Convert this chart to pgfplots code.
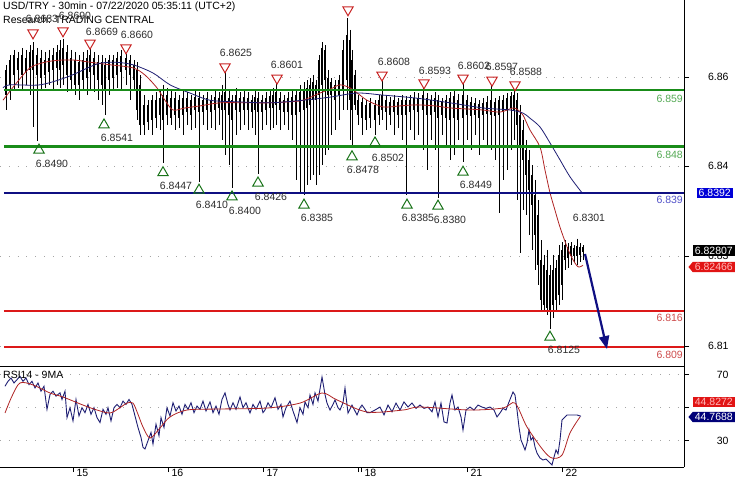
\documentclass[border=0pt]{standalone}
\usepackage{pgfplots}
\pgfplotsset{compat=1.18}
\usepackage{pgfplotstable}
\usepackage{fontspec}
\setmainfont{Liberation Sans}
\usetikzlibrary{arrows.meta,shapes.symbols}

\definecolor{lvgreen}{RGB}{25,140,25}
\definecolor{lvnavy}{RGB}{15,15,130}
\definecolor{lvred}{RGB}{220,25,25}
\definecolor{mared}{RGB}{175,35,35}
\definecolor{manavy}{RGB}{30,30,115}
\definecolor{txtgray}{RGB}{45,45,45}
\definecolor{gridgray}{RGB}{165,165,165}
\definecolor{trired}{RGB}{200,35,35}
\definecolor{trigreen}{RGB}{25,115,25}
\definecolor{boxblue}{RGB}{0,0,215}
\definecolor{boxred}{RGB}{225,20,20}
\definecolor{boxtxt}{RGB}{255,185,185}

% 30 min bars: x, high, low, body top, body bottom
\pgfplotstableread{
x h l bt bb
6 6.8639 6.8551 6.8629 6.8580
10 6.8658 6.8570 6.8648 6.8600
14 6.8668 6.8590 6.8658 6.8619
18 6.8664 6.8594 6.8652 6.8629
22 6.8672 6.8590 6.8658 6.8619
26 6.8668 6.8600 6.8652 6.8625
30 6.8677 6.8580 6.8664 6.8629
33 6.8683 6.8518 6.8668 6.8629
37 6.8672 6.8490 6.8658 6.8619
41 6.8668 6.8590 6.8652 6.8613
45 6.8664 6.8594 6.8648 6.8619
49 6.8668 6.8600 6.8652 6.8625
53 6.8672 6.8590 6.8658 6.8629
57 6.8677 6.8600 6.8664 6.8633
60 6.8687 6.8594 6.8668 6.8629
63 6.8690 6.8600 6.8672 6.8639
67 6.8677 6.8586 6.8664 6.8619
71 6.8668 6.8590 6.8652 6.8609
75 6.8664 6.8580 6.8648 6.8600
79 6.8658 6.8570 6.8644 6.8600
83 6.8664 6.8590 6.8648 6.8609
87 6.8668 6.8580 6.8652 6.8613
90 6.8669 6.8590 6.8658 6.8625
94 6.8664 6.8586 6.8652 6.8619
98 6.8658 6.8570 6.8644 6.8609
102 6.8658 6.8561 6.8644 6.8600
105 6.8652 6.8541 6.8639 6.8590
109 6.8658 6.8580 6.8648 6.8609
113 6.8658 6.8590 6.8648 6.8613
117 6.8664 6.8594 6.8652 6.8619
121 6.8668 6.8590 6.8656 6.8625
126 6.8660 6.8600 6.8652 6.8629
130 6.8658 6.8570 6.8648 6.8619
134 6.8648 6.8590 6.8639 6.8609
137 6.8644 6.8532 6.8629 6.8551
140 6.8619 6.8502 6.8600 6.8522
144 6.8580 6.8502 6.8561 6.8522
148 6.8570 6.8512 6.8561 6.8528
152 6.8580 6.8502 6.8570 6.8532
156 6.8586 6.8516 6.8570 6.8535
160 6.8590 6.8512 6.8574 6.8541
163 6.8600 6.8447 6.8580 6.8532
167 6.8594 6.8522 6.8580 6.8541
171 6.8590 6.8522 6.8574 6.8535
175 6.8586 6.8512 6.8574 6.8541
179 6.8580 6.8516 6.8570 6.8535
183 6.8590 6.8502 6.8574 6.8541
187 6.8586 6.8522 6.8574 6.8547
191 6.8580 6.8512 6.8570 6.8541
195 6.8590 6.8516 6.8576 6.8551
199 6.8586 6.8410 6.8574 6.8547
203 6.8580 6.8522 6.8570 6.8547
207 6.8586 6.8512 6.8574 6.8551
211 6.8580 6.8516 6.8570 6.8547
215 6.8590 6.8512 6.8576 6.8551
219 6.8586 6.8522 6.8574 6.8555
222 6.8600 6.8493 6.8580 6.8551
225 6.8625 6.8463 6.8586 6.8551
229 6.8590 6.8444 6.8574 6.8541
232 6.8580 6.8400 6.8570 6.8532
236 6.8594 6.8502 6.8580 6.8551
240 6.8586 6.8512 6.8574 6.8547
244 6.8590 6.8522 6.8576 6.8551
248 6.8586 6.8512 6.8574 6.8551
252 6.8580 6.8516 6.8570 6.8547
255 6.8590 6.8502 6.8576 6.8551
258 6.8586 6.8426 6.8574 6.8547
262 6.8580 6.8512 6.8570 6.8547
266 6.8586 6.8522 6.8574 6.8551
270 6.8590 6.8512 6.8578 6.8555
273 6.8594 6.8516 6.8580 6.8555
276 6.8601 6.8522 6.8586 6.8561
280 6.8586 6.8512 6.8574 6.8551
284 6.8580 6.8522 6.8570 6.8547
288 6.8586 6.8512 6.8574 6.8547
292 6.8590 6.8493 6.8576 6.8541
296 6.8590 6.8415 6.8580 6.8541
300 6.8600 6.8391 6.8586 6.8547
304 6.8605 6.8385 6.8590 6.8551
307 6.8609 6.8405 6.8594 6.8555
310 6.8613 6.8415 6.8600 6.8561
313 6.8619 6.8425 6.8605 6.8570
316 6.8609 6.8405 6.8600 6.8570
319 6.8658 6.8425 6.8648 6.8580
322 6.8683 6.8444 6.8672 6.8600
325 6.8677 6.8463 6.8668 6.8609
328 6.8629 6.8473 6.8613 6.8580
331 6.8613 6.8502 6.8605 6.8580
335 6.8609 6.8512 6.8600 6.8570
339 6.8619 6.8532 6.8609 6.8580
343 6.8687 6.8551 6.8668 6.8590
347 6.8730 6.8551 6.8697 6.8609
350 6.8707 6.8493 6.8687 6.8570
352 6.8668 6.8478 6.8648 6.8551
355 6.8629 6.8551 6.8619 6.8561
358 6.8580 6.8522 6.8570 6.8541
362 6.8574 6.8502 6.8567 6.8535
366 6.8570 6.8512 6.8561 6.8532
370 6.8574 6.8516 6.8565 6.8535
375 6.8570 6.8502 6.8561 6.8532
379 6.8580 6.8522 6.8570 6.8541
382 6.8608 6.8532 6.8580 6.8551
386 6.8580 6.8512 6.8570 6.8547
390 6.8576 6.8522 6.8567 6.8541
394 6.8580 6.8502 6.8570 6.8547
398 6.8574 6.8516 6.8567 6.8541
402 6.8580 6.8493 6.8570 6.8541
406 6.8578 6.8385 6.8570 6.8541
410 6.8580 6.8512 6.8570 6.8547
414 6.8586 6.8493 6.8574 6.8551
418 6.8584 6.8502 6.8574 6.8547
423 6.8593 6.8473 6.8580 6.8551
427 6.8584 6.8434 6.8574 6.8541
431 6.8580 6.8493 6.8570 6.8541
435 6.8586 6.8473 6.8574 6.8547
438 6.8580 6.8380 6.8570 6.8535
442 6.8574 6.8502 6.8567 6.8541
446 6.8580 6.8483 6.8570 6.8535
450 6.8586 6.8454 6.8574 6.8532
454 6.8590 6.8463 6.8578 6.8535
458 6.8582 6.8493 6.8570 6.8532
463 6.8602 6.8449 6.8580 6.8535
467 6.8580 6.8493 6.8570 6.8541
471 6.8576 6.8473 6.8567 6.8539
475 6.8574 6.8502 6.8565 6.8541
479 6.8570 6.8463 6.8563 6.8535
483 6.8574 6.8493 6.8565 6.8541
487 6.8578 6.8483 6.8567 6.8543
491 6.8597 6.8473 6.8570 6.8541
495 6.8574 6.8454 6.8567 6.8539
499 6.8578 6.8351 6.8570 6.8541
503 6.8580 6.8415 6.8570 6.8547
507 6.8584 6.8434 6.8574 6.8551
511 6.8586 6.8473 6.8578 6.8555
514 6.8588 6.8493 6.8580 6.8551
517 6.8584 6.8376 6.8570 6.8522
520 6.8561 6.8273 6.8541 6.8483
523 6.8532 6.8356 6.8512 6.8454
526 6.8493 6.8347 6.8473 6.8425
529 6.8473 6.8308 6.8454 6.8395
532 6.8444 6.8279 6.8425 6.8366
535 6.8415 6.8240 6.8386 6.8308
538 6.8376 6.8211 6.8347 6.8249
541 6.8298 6.8162 6.8259 6.8181
544 6.8269 6.8158 6.8249 6.8172
547 6.8279 6.8152 6.8240 6.8166
550 6.8249 6.8125 6.8230 6.8162
553 6.8269 6.8146 6.8240 6.8172
556 6.8259 6.8158 6.8244 6.8181
559 6.8288 6.8172 6.8269 6.8191
562 6.8294 6.8181 6.8279 6.8211
565 6.8298 6.8240 6.8288 6.8259
568 6.8292 6.8244 6.8285 6.8263
571 6.8294 6.8249 6.8286 6.8267
574 6.8288 6.8255 6.8283 6.8267
577 6.8301 6.8249 6.8286 6.8267
580 6.8292 6.8255 6.8285 6.8269
583 6.8288 6.8259 6.8285 6.8275
}\bars

\pgfplotstableread{
x p
3 6.8570
15 6.8600
30 6.8633
45 6.8644
60 6.8648
75 6.8648
90 6.8644
110 6.8639
133 6.8633
145 6.8619
157 6.8594
165 6.8570
173 6.8551
185 6.8555
200 6.8559
220 6.8565
250 6.8565
270 6.8565
290 6.8567
303 6.8570
320 6.8584
333 6.8594
340 6.8600
350 6.8594
360 6.8580
367 6.8570
383 6.8557
400 6.8559
417 6.8561
435 6.8559
450 6.8555
467 6.8553
483 6.8551
500 6.8547
513 6.8555
518 6.8551
523 6.8541
530 6.8512
540 6.8479
545 6.8434
550 6.8390
555 6.8356
560 6.8323
567 6.8285
572 6.8263
578 6.8246
583 6.8249
}\mafast

\pgfplotstableread{
x p
3 6.8594
10 6.8600
40 6.8600
67 6.8615
90 6.8635
100 6.8642
115 6.8644
133 6.8639
153 6.8623
170 6.8600
190 6.8584
210 6.8570
237 6.8567
270 6.8565
303 6.8570
330 6.8576
357 6.8584
383 6.8580
417 6.8574
450 6.8565
483 6.8555
510 6.8551
523 6.8545
530 6.8535
540 6.8518
550 6.8487
560 6.8454
570 6.8421
582 6.8390
}\maslow

\pgfplotstableread{
x p
33 6.8701
63 6.8705
90 6.8681
126 6.8672
225 6.8635
277 6.8613
348 6.8746
382 6.8619
424 6.8604
463 6.8613
492 6.8609
515 6.8600
}\hightri

\pgfplotstableread{
x p
39 6.8473
104 6.8522
163 6.8429
199 6.8395
232 6.8382
258 6.8409
304 6.8366
352 6.8460
375 6.8487
407 6.8366
438 6.8364
463 6.8430
550 6.8109
}\lowtri

\pgfplotstableread{
x r
5 63
8 66
11 68
14 65
17 67
20 69
23 66
26 68
29 64
32 66
35 62
38 65
41 60
44 63
47 49
50 58
53 60
56 57
60 59
62 55
65 60
67 44
70 50
73 42
76 55
79 45
82 50
85 47
88 52
91 46
94 50
97 44
100 41
103 49
106 46
108 50
111 42
114 50
117 52
120 50
123 54
126 52
129 55
132 52
135 45
138 38
141 32
143 26
145 25
148 30
151 35
153 28
156 40
159 33
161 44
164 38
167 50
170 45
173 53
176 48
179 51
182 46
185 52
188 49
191 53
194 47
197 51
200 49
203 54
206 48
210 53.5
213 47
216 51
219 46
222 55
225 59
228 52
230 48.6
233 53
236 49
240 56.5
243 50
246 53
250 46.8
253 52
256 49
260 54
263 47
265 48.6
268 53
271 50
275 56
278 49
281 52
283 44.4
286 50
290 54
293 48
297 41
300 50
303 46
305 53.5
308 50
310 57.7
313 52
315 59
318 54
322 68.6
325 58
327 52.8
330 48.6
333 52
335 54.7
338 50
340 48.6
343 53
345 62
348 46.8
352 51.6
355 48
357 45.6
360 50
362 51.6
365 49
367 47
370 47
375 48.6
380 50.4
384 45.6
388 51.6
392 47.5
396 52.8
400 48.6
404 53.5
408 50.4
412 52.8
416 49.6
420 51.6
424 49.6
428 50.4
432 47.5
435 53.5
438 44.4
441 52.8
444 41.4
447 40.7
450 52.8
452 57.7
455 48.6
458 50.4
461 44.4
463 36.5
466 48.6
470 50.4
474 48.6
478 51.6
482 50.4
486 49.6
490 50.4
494 48.6
497 44.4
500 46.8
503 49.6
506 48.6
509 53.5
511 56.5
513 59.5
515 57.7
517 48.6
519 38.3
521 30.4
523 27.5
525 24.4
527 28.6
529 36.5
531 30.4
533 32.2
535 26.2
537 22.5
540 19.5
543 18.3
546 18.9
549 17.1
552 15.3
554 20.1
556 24.4
558 22
560 30.4
562 42.6
564 43.8
567 45.6
572 45.6
577 45.6
581 44.8
}\rsi

\pgfplotstableread{
x r
5 46.8
12 57
20 65
33 63.8
50 58.9
63 56.5
83 51.6
97 48.6
110 46.8
120 50
127 52.8
133 52.8
138 46
143 38.3
150 31.6
160 37.7
170 44.4
187 48.6
217 49.2
267 49.8
300 52.8
322 58.9
337 54.7
367 47.4
403 48.6
420 50.4
470 48.6
503 49.8
515 52.8
527 38.3
543 24.4
552 19.5
562 21.3
570 34.7
580 44.4
}\rsima

\begin{document}
\begin{tikzpicture}[font=\fontsize{10.5}{12}\selectfont]
\begin{axis}[
  at={(0pt,0pt)}, anchor=north west,
  scale only axis, width=684pt, height=366pt,
  xmin=0, xmax=684, ymin=6.80530, ymax=6.87650,
  axis x line*=bottom, axis y line*=right,
  axis line style={black, line width=0.8pt},
  xtick=\empty,
  ytick={6.8615,6.8442,6.8267,6.8092},
  yticklabels={6.86,6.84,6.83,6.81},
  tick align=outside, major tick length=5pt,
  tick style={black, line width=0.8pt},
  yticklabel style={anchor=east, xshift=43pt},
  ymajorgrids, grid style={gridgray, line width=0.8pt, dash pattern=on 0.8pt off 8pt},
]
% wicks and bodies
\addplot[draw=none, mark=none, forget plot,
  error bars/.cd, y dir=minus, y explicit, error mark=none,
  error bar style={black, line width=0.8pt}]
  table[x=x, y=h, y error minus expr=\thisrow{h}-\thisrow{l}] {\bars};
\addplot[draw=none, mark=none, forget plot,
  error bars/.cd, y dir=minus, y explicit, error mark=none,
  error bar style={black, line width=2.1pt}]
  table[x=x, y=bt, y error minus expr=\thisrow{bt}-\thisrow{bb}] {\bars};
% moving averages
\addplot[mared, line width=0.8pt, smooth, mark=none] table[x=x, y=p] {\mafast};
\addplot[manavy, line width=0.8pt, smooth, mark=none] table[x=x, y=p] {\maslow};
% swing markers
\addplot[only marks, mark=triangle, mark size=6pt, mark options={trired, line width=1pt, rotate=180, fill=white, fill opacity=0}] table[x=x, y=p] {\hightri};
\addplot[only marks, mark=triangle, mark size=6pt, mark options={trigreen, line width=1pt, fill=white, fill opacity=0}] table[x=x, y=p] {\lowtri};
% support / resistance levels
\addplot[lvgreen, line width=2.2pt] coordinates {(4,6.859) (684,6.859)};
\addplot[lvgreen, line width=2.2pt] coordinates {(4,6.848) (684,6.848)};
\addplot[lvnavy, line width=2.2pt] coordinates {(4,6.839) (684,6.839)};
\addplot[lvred, line width=2.2pt] coordinates {(4,6.816) (684,6.816)};
\addplot[lvred, line width=2.2pt] coordinates {(4,6.809) (684,6.809)};
% target arrow
\addplot[lvnavy, line width=2.2pt, -{Triangle[width=10pt,length=13pt]}] coordinates {(585,6.8271) (607,6.8086)};
\end{axis}

\begin{axis}[
  at={(0pt,-366pt)}, anchor=north west,
  scale only axis, width=684pt, height=101pt,
  xmin=0, xmax=684, ymin=14.06, ymax=75.27,
  axis x line*=box, axis y line*=right,
  axis line style={black, line width=0.8pt},
  xtick pos=left,
  xtick={73,168,263,358,361,467,562},
  xticklabels={15,16,17,,18,21,22},
  ytick={30,50,70}, yticklabels={30,,70},
  tick align=outside, major tick length=5pt,
  tick style={black, line width=0.8pt},
  xticklabel style={anchor=north west, xshift=0pt, yshift=6.5pt},
  yticklabel style={anchor=east, xshift=43pt},
  ymajorgrids, grid style={gridgray, line width=0.8pt, dash pattern=on 0.8pt off 8pt},
]
\addplot[manavy, line width=0.9pt, mark=none] table[x=x, y=r] {\rsi};
\addplot[mared, line width=0.8pt, smooth, mark=none] table[x=x, y=r] {\rsima};
\end{axis}

% titles
\node[anchor=base west, inner sep=0pt] at (3pt,-9.5pt) {USD/TRY - 30min - 07/22/2020 05:35:11 (UTC+2)};
\node[anchor=base west, inner sep=0pt] at (3pt,-23.5pt) {Research: TRADING CENTRAL};
\node[anchor=base west, inner sep=0pt] at (3pt,-378.5pt) {RSI14 - 9MA};

% swing labels
\begin{scope}[every node/.style={text=txtgray, inner sep=0pt, anchor=center}]
\node at (42pt,-19pt) {6.8683};
\node at (75pt,-16pt) {6.8690};
\node at (102pt,-32pt) {6.8669};
\node at (137pt,-35pt) {6.8660};
\node at (236pt,-53pt) {6.8625};
\node at (287pt,-65pt) {6.8601};
\node at (394pt,-62pt) {6.8608};
\node at (435pt,-71pt) {6.8593};
\node at (474pt,-66pt) {6.8602};
\node at (502pt,-67pt) {6.8597};
\node at (526pt,-72pt) {6.8588};
\node at (589pt,-218pt) {6.8301};
\node at (52pt,-164pt) {6.8490};
\node at (117pt,-138pt) {6.8541};
\node at (176pt,-186pt) {6.8447};
\node at (212pt,-205pt) {6.8410};
\node at (245pt,-211pt) {6.8400};
\node at (271pt,-197pt) {6.8426};
\node at (317pt,-218pt) {6.8385};
\node at (363pt,-170pt) {6.8478};
\node at (388pt,-158pt) {6.8502};
\node at (418pt,-218pt) {6.8385};
\node at (450pt,-220pt) {6.8380};
\node at (476pt,-185pt) {6.8449};
\node at (564pt,-350pt) {6.8125};
\end{scope}

% level values
\begin{scope}[every node/.style={inner sep=0pt, anchor=east}]
\node[text=lvgreen!75!white] at (683pt,-98.5pt) {6.859};
\node[text=lvgreen!75!white] at (683pt,-155pt) {6.848};
\node[text={rgb,255:red,80;green,80;blue,200}] at (683pt,-200pt) {6.839};
\node[text={rgb,255:red,205;green,75;blue,75}] at (683pt,-318pt) {6.816};
\node[text={rgb,255:red,205;green,75;blue,75}] at (683pt,-355pt) {6.809};
\end{scope}

% value boxes on the scale
\node[fill=boxblue, text=white, inner xsep=2pt, inner ysep=1.5pt, anchor=east] at (733pt,-193pt) {6.8392};
\node[fill=black, text=white, inner xsep=2pt, inner ysep=1.5pt, anchor=east] at (735pt,-250.5pt) {6.82807};
\node[signal, signal to=west, signal pointer angle=100, fill=boxred, text=boxtxt, inner xsep=2pt, inner ysep=1.5pt, anchor=east] at (735pt,-267pt) {6.82466};
\node[fill=boxred, text=boxtxt, inner xsep=2pt, inner ysep=1.5pt, anchor=east] at (735pt,-402pt) {44.8272};
\node[signal, signal to=west, signal pointer angle=100, fill={rgb,255:red,0;green,0;blue,120}, text=white, inner xsep=2pt, inner ysep=1.5pt, anchor=east] at (735pt,-417pt) {44.7688};

\pgfresetboundingbox
\path[use as bounding box] (0pt,0pt) rectangle (735pt,-480pt);
\end{tikzpicture}
\end{document}
